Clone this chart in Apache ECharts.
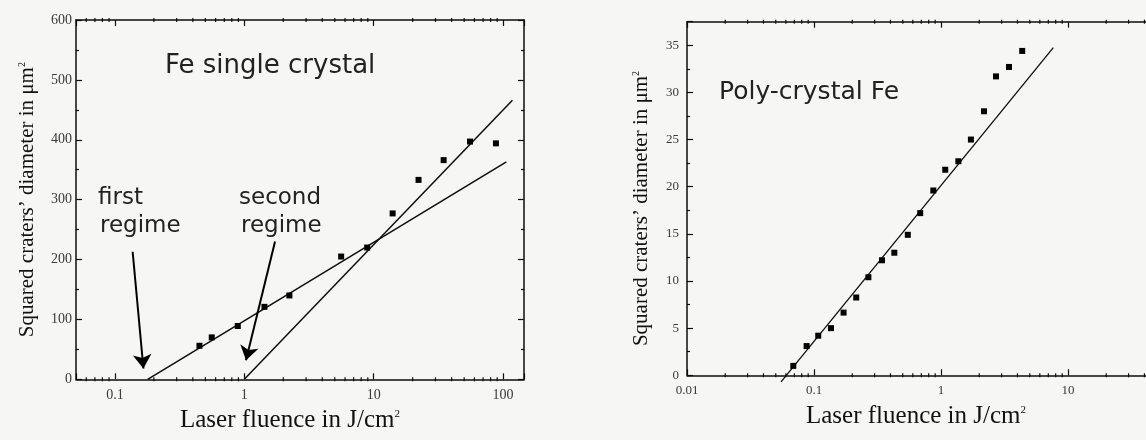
<!DOCTYPE html>
<html><head><meta charset="utf-8">
<script src="https://cdn.jsdelivr.net/npm/echarts@6/dist/echarts.min.js"></script>
<style>html,body{margin:0;padding:0;background:#f6f6f5}#c{width:1146px;height:440px}</style>
</head><body><div id="c"></div><script>
// ---- Left panel: Fe single crystal ----
const leftFluence = [0.45, 0.56, 0.89, 1.43, 2.23, 5.6, 8.9, 14.0, 22.2, 34.7, 55.5, 88];
const leftDiam2   = [56, 70, 89, 121, 140, 205, 220, 277, 333, 366, 397, 394];
const fit1Fluence = [0.179, 106];
const fit1Diam2   = [0, 363];
const fit2Fluence = [1.0, 118];
const fit2Diam2   = [0, 466];
const leftYTicks  = [0, 100, 200, 300, 400, 500, 600];
const leftXTicks  = [0.1, 1, 10, 100];
// ---- Right panel: Poly-crystal Fe ----
const rightFluence = [0.0687, 0.0875, 0.108, 0.136, 0.171, 0.215, 0.268, 0.343, 0.429, 0.548, 0.686, 0.870, 1.08, 1.37, 1.72, 2.18, 2.71, 3.43, 4.36];
const rightDiam2   = [1.0, 3.1, 4.2, 5.0, 6.65, 8.25, 10.4, 12.2, 13.0, 14.9, 17.2, 19.6, 21.8, 22.7, 25.0, 28.0, 31.7, 32.7, 34.4];
const fit3Fluence  = [0.055, 7.66];
const fit3Diam2    = [-0.7, 34.75];
const rightYTicks  = [0, 5, 10, 15, 20, 25, 30, 35];
const rightXTicks  = [0.01, 0.1, 1, 10, 100];
// arrows (annotation, data coords): [x1,y1,x2,y2]
const arrowFirst  = [0.137, 213, 0.166, 18];
const arrowSecond = [1.727, 230, 1.03, 32];

const zip = (a, b) => a.map((v, i) => [v, b[i]]);
function minorLog(min, max) {
  const out = [];
  for (let e = -3; e <= 3; e++) {
    const d = Math.pow(10, e);
    for (let k = 2; k <= 9; k++) {
      const v = +(k * d).toPrecision(6);
      if (v > min * 1.0001 && v < max * 0.9999) out.push(v);
    }
  }
  return out;
}
const LX = [0.05, 145], RX = [0.01, 100];
const LY = [0, 600], RY = [0, 37.5];

const ink = '#0d0d0d';
const labelColor = '#3a3a3a';
const serif = '"Liberation Serif", "DejaVu Serif", serif';
const sans = '"DejaVu Sans", sans-serif';

function isDecade(v) { const l = Math.log10(v); return Math.abs(l - Math.round(l)) < 1e-6; }
function logFmt(ticks) { return v => (isDecade(v) && ticks.some(t => Math.abs(t - v) / t < 1e-6)) ? String(+v.toPrecision(6)) : ''; }

function xAx(grid, range, pos, ticks, showLabel, name, namePad, fs) {
  return {
    type: 'log', gridIndex: grid, position: pos, min: range[0], max: range[1], logBase: 10,
    axisLine: { show: true, onZero: false, lineStyle: { color: ink, width: 1.5 } },
    axisTick: { show: true, inside: true, length: 6, lineStyle: { color: ink, width: 1.2 } },
    minorTick: { show: false },
    splitLine: { show: false },
    axisLabel: { show: showLabel, formatter: logFmt(ticks), color: labelColor, fontFamily: serif, fontSize: fs, margin: 9 },
    name: name || '', nameLocation: 'middle', nameGap: 29,
    nameTextStyle: { fontFamily: serif, fontSize: 25, color: '#111', padding: namePad || 0,
      rich: { sup: { fontFamily: serif, fontSize: 11, color: '#111', verticalAlign: 'top', padding: [0, 0, 14, 0] } } }
  };
}
function yAx(grid, range, pos, interval, showLabel, name, namePad, nameGap, fs, ticks) {
  return {
    type: 'value', gridIndex: grid, position: pos, min: range[0], max: range[1], interval: interval,
    axisLine: { show: true, onZero: false, lineStyle: { color: ink, width: 1.5 } },
    axisTick: { show: true, inside: true, length: 6, lineStyle: { color: ink, width: 1.2 } },
    minorTick: { show: true, splitNumber: 2, length: 3, lineStyle: { color: ink, width: 1.2 } },
    splitLine: { show: false },
    axisLabel: { show: showLabel, color: labelColor, fontFamily: serif, fontSize: fs, margin: pos === 'left' ? (grid === 0 ? 4 : 8) : 8,
      formatter: v => ticks.indexOf(v) >= 0 ? String(v) : '' },
    name: name || '', nameLocation: 'middle', nameGap: nameGap || 40, nameRotate: 90,
    nameTextStyle: { fontFamily: serif, fontSize: 21, color: '#111', padding: namePad || 0,
      rich: { sup: { fontFamily: serif, fontSize: 10, color: '#111', verticalAlign: 'top', padding: [0, 0, 11, 0] } } }
  };
}

function tickSeries(xi, yi, vals, yv, off) {
  return {
    type: 'scatter', xAxisIndex: xi, yAxisIndex: yi, silent: true, clip: false, z: 5,
    symbol: 'rect', symbolSize: [1.2, 4], symbolOffset: [0, off],
    itemStyle: { color: ink, opacity: 1 }, data: vals.map(v => [v, yv]), animation: false
  };
}

const yName = 'Squared craters’ diameter in μm{sup|2}';
const xName = 'Laser fluence in J/cm{sup|2}';

const option = {
  backgroundColor: '#f6f6f5',
  animation: false,
  grid: [
    { left: 76, top: 20, width: 448, height: 359.3, outerBoundsMode: 'none', containLabel: false },
    { left: 687, top: 21.7, width: 508, height: 353.6, outerBoundsMode: 'none', containLabel: false }
  ],
  xAxis: [
    xAx(0, LX, 'bottom', leftXTicks, true, xName, [0, 20, 0, 0], 14),
    xAx(0, LX, 'top', leftXTicks, false, '', 0, 14),
    xAx(1, RX, 'bottom', rightXTicks, true, xName, [0, 50, 0, 0], 13),
    xAx(1, RX, 'top', rightXTicks, false, '', 0, 13)
  ],
  yAxis: [
    yAx(0, LY, 'left', 100, true, yName, 0, 38, 14, leftYTicks),
    yAx(0, LY, 'right', 100, false, '', 0, 40, 14, leftYTicks),
    yAx(1, RY, 'left', 5, true, yName, [0, 20, 0, 0], 35, 13, rightYTicks),
    yAx(1, RY, 'right', 5, false, '', 0, 40, 13, rightYTicks)
  ],
  graphic: [
    { type: 'text', left: 165, top: 53.5, style: { text: 'Fe single crystal', font: '26px ' + sans, fill: '#222', textVerticalAlign: 'middle' } },
    { type: 'text', left: 98, top: 187, style: { text: 'first', font: '23px ' + sans, fill: '#222', textVerticalAlign: 'middle' } },
    { type: 'text', left: 100, top: 215, style: { text: 'regime', font: '23px ' + sans, fill: '#222', textVerticalAlign: 'middle' } },
    { type: 'text', left: 239, top: 187, style: { text: 'second', font: '23px ' + sans, fill: '#222', textVerticalAlign: 'middle' } },
    { type: 'text', left: 241, top: 215, style: { text: 'regime', font: '23px ' + sans, fill: '#222', textVerticalAlign: 'middle' } },
    { type: 'text', left: 719, top: 79.5, style: { text: 'Poly-crystal Fe', font: '25px ' + sans, fill: '#222', textVerticalAlign: 'middle' } }
  ],
  series: [
    { type: 'scatter', name: 'Fe single crystal', xAxisIndex: 0, yAxisIndex: 0, symbol: 'rect', symbolSize: 6,
      itemStyle: { color: '#000', opacity: 1 }, data: zip(leftFluence, leftDiam2), z: 4 },
    { type: 'line', xAxisIndex: 0, yAxisIndex: 0, showSymbol: false, symbol: 'none',
      lineStyle: { color: ink, width: 1.5 }, data: zip(fit1Fluence, fit1Diam2), z: 3,
      markLine: { silent: true, symbol: ['none', 'arrow'], symbolSize: 14, label: { show: false },
        lineStyle: { color: '#000', width: 2, type: 'solid', opacity: 1 },
        emphasis: { disabled: true },
        data: [
          [{ coord: [arrowFirst[0], arrowFirst[1]] }, { coord: [arrowFirst[2], arrowFirst[3]] }],
          [{ coord: [arrowSecond[0], arrowSecond[1]] }, { coord: [arrowSecond[2], arrowSecond[3]] }]
        ] } },
    { type: 'line', xAxisIndex: 0, yAxisIndex: 0, showSymbol: false, symbol: 'none',
      lineStyle: { color: ink, width: 1.5 }, data: zip(fit2Fluence, fit2Diam2), z: 3 },
    tickSeries(0, 0, minorLog(LX[0], LX[1]), LY[0], [0, -2]),
    tickSeries(0, 0, minorLog(LX[0], LX[1]), LY[1], [0, 2]),
    { type: 'scatter', name: 'Poly-crystal Fe', xAxisIndex: 2, yAxisIndex: 2, symbol: 'rect', symbolSize: 6,
      itemStyle: { color: '#000', opacity: 1 }, data: zip(rightFluence, rightDiam2), z: 4 },
    { type: 'line', xAxisIndex: 2, yAxisIndex: 2, showSymbol: false, symbol: 'none', clip: false,
      lineStyle: { color: ink, width: 1.3 }, data: zip(fit3Fluence, fit3Diam2), z: 3 },
    tickSeries(2, 2, minorLog(RX[0], RX[1]), RY[0], [0, -2]),
    tickSeries(2, 2, minorLog(RX[0], RX[1]), RY[1], [0, 2])
  ]
};
const chart = echarts.init(document.getElementById('c'), null, { renderer: 'canvas' });
chart.setOption(option);
</script></body></html>
